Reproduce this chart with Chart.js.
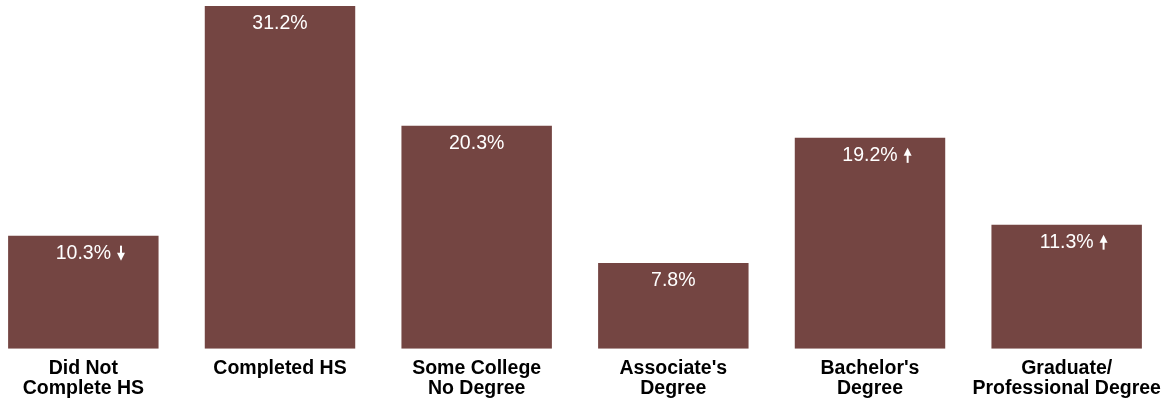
<!DOCTYPE html>
<html>
<head>
<meta charset="utf-8">
<script src="https://cdn.jsdelivr.net/npm/chart.js@4/dist/chart.umd.min.js"></script>
<style>
  html, body { margin: 0; padding: 0; background: #fff; overflow: hidden; }
  #wrap { position: absolute; left: -15px; top: 0; width: 1180px; height: 409px; }
</style>
</head>
<body>
<div id="wrap"><canvas id="chart"></canvas></div>
<script>
// ── Data ──────────────────────────────────────────────────────────────────────
const categories = [
  ['Did Not', 'Complete HS'],
  'Completed HS',
  ['Some College', 'No Degree'],
  ["Associate's", 'Degree'],
  ["Bachelor's", 'Degree'],
  ['Graduate/', 'Professional Degree'],
];
const shares = [10.3, 31.2, 20.3, 7.8, 19.2, 11.3];
const trends = ['down', '', '', '', 'up', 'up'];

const BAR_COLOR = '#744542';
const FONT = 'Arial, "Liberation Sans", sans-serif';

// ── Value labels + trend arrows ───────────────────────────────────────────────
const valueLabels = {
  id: 'valueLabels',
  afterDatasetsDraw(chart) {
    const ctx = chart.ctx;
    const meta = chart.getDatasetMeta(0);
    ctx.save();
    ctx.font = '19.5px ' + FONT;
    ctx.fillStyle = '#fff';
    ctx.strokeStyle = '#fff';
    ctx.textAlign = 'center';
    ctx.textBaseline = 'middle';
    meta.data.forEach((bar, i) => {
      const txt = shares[i].toFixed(1) + '%';
      const y = bar.y + 18;
      ctx.fillText(txt, bar.x, y);
      if (!trends[i]) return;
      const w = ctx.measureText(txt).width;
      const ax = bar.x + w / 2 + 10;
      const top = y - 8, bot = y + 7;
      ctx.lineWidth = 2;
      ctx.beginPath();
      if (trends[i] === 'up') {
        ctx.moveTo(ax, bot); ctx.lineTo(ax, top + 6);
        ctx.stroke();
        ctx.beginPath();
        ctx.moveTo(ax, top); ctx.lineTo(ax - 4, top + 8); ctx.lineTo(ax + 4, top + 8);
      } else {
        ctx.moveTo(ax, top); ctx.lineTo(ax, bot - 6);
        ctx.stroke();
        ctx.beginPath();
        ctx.moveTo(ax, bot); ctx.lineTo(ax - 4, bot - 8); ctx.lineTo(ax + 4, bot - 8);
      }
      ctx.closePath();
      ctx.fill();
    });
    ctx.restore();
  },
};

new Chart(document.getElementById('chart'), {
  type: 'bar',
  data: {
    labels: categories,
    datasets: [{
      data: shares,
      backgroundColor: BAR_COLOR,
      borderWidth: 0,
      categoryPercentage: 1,
      barPercentage: 0.765,
    }],
  },
  options: {
    responsive: true,
    maintainAspectRatio: false,
    animation: false,
    layout: { padding: { top: 6, left: 0, right: 0, bottom: 0 } },
    plugins: { legend: { display: false }, tooltip: { enabled: false } },
    scales: {
      x: {
        grid: { display: false, drawTicks: false },
        border: { display: false },
        // labels may spill past the edge bars, don't shrink the plot for them
        afterFit: s => { s.paddingLeft = 0; s.paddingRight = 0; },
        ticks: {
          color: '#000',
          padding: 10,
          maxRotation: 0,
          autoSkip: false,
          font: { family: FONT, size: 19.5, weight: 'bold', lineHeight: 1.03 },
        },
      },
      y: { display: false, min: 0, max: 31.2 },
    },
  },
  plugins: [valueLabels],
});
</script>
</body>
</html>
